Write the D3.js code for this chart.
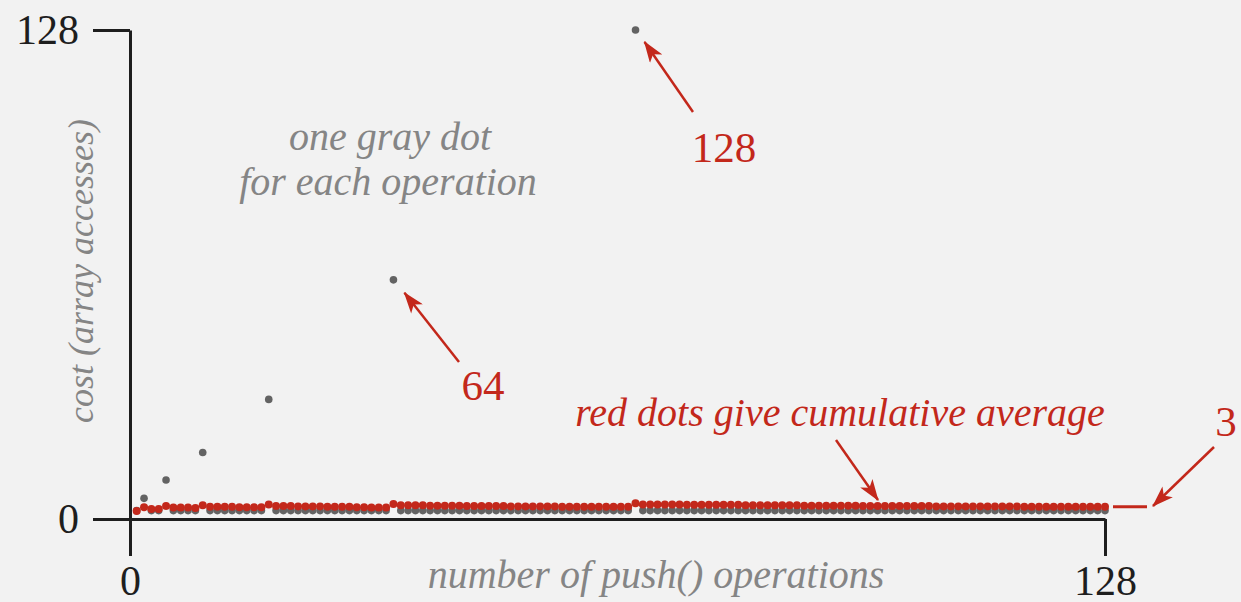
<!DOCTYPE html>
<html>
<head>
<meta charset="utf-8">
<script src="https://cdn.jsdelivr.net/npm/d3@7"></script>
<style>
  body { margin: 0; background: #f2f2f2; }
  svg { display: block; font-family: "Liberation Serif", "DejaVu Serif", serif; }
</style>
</head>
<body>
<div id="chart"></div>
<script>
// tick labels
var xTicks = [0, 128];
var yTicks = [0, 128];

// one dot per operation
var opCount = 133;
// operations that trigger a resize (gray dots high up) and their cost
var spikeOps = [2, 5, 10, 19, 36, 69];
var spikeCosts = [5.4, 10.2, 17.4, 31.3, 62.6, 128];
var baseCost = 2.2;

// red dots: cumulative average
var avgCost = [
  2.1, 3.1, 2.6, 2.6, 3.4, 3.0, 3.0, 3.0, 2.9, 3.6,
  3.2, 3.2, 3.2, 3.2, 3.1, 3.1, 3.1, 3.1, 3.8,
  3.4, 3.4, 3.4, 3.3, 3.3, 3.3, 3.3, 3.2, 3.2, 3.2, 3.2, 3.1, 3.1, 3.0, 3.0, 3.0,
  3.9,
  3.6, 3.6, 3.6, 3.6, 3.5, 3.5, 3.5, 3.5, 3.5, 3.4, 3.4, 3.4, 3.4, 3.4, 3.4, 3.3,
  3.3, 3.3, 3.3, 3.3, 3.3, 3.3, 3.2, 3.2, 3.2, 3.2, 3.2, 3.2, 3.2, 3.2, 3.2, 3.2,
  4.1,
  3.8, 3.8, 3.8, 3.8, 3.8, 3.8, 3.7, 3.7, 3.7, 3.7, 3.7, 3.7, 3.7, 3.7,
  3.6, 3.6, 3.6, 3.6, 3.6, 3.6, 3.6, 3.6, 3.5, 3.5, 3.5, 3.5, 3.5, 3.5, 3.5, 3.5,
  3.4, 3.4, 3.4, 3.4, 3.4, 3.4, 3.4, 3.4, 3.4, 3.4,
  3.3, 3.3, 3.3, 3.3, 3.3, 3.3, 3.3, 3.3, 3.3, 3.3, 3.3, 3.3,
  3.2, 3.2, 3.2, 3.2, 3.2, 3.2, 3.2, 3.2, 3.2, 3.2, 3.2, 3.2
];
var limitLabel = "3";

var svgWidth = 1241;
var svgHeight = 602;

var red = "#c3281b";
var gray = "#636363";
var textGray = "#858585";
var ink = "#1e1e1e";

var svg = d3.select("#chart")
  .append("svg")
  .attr("width", svgWidth)
  .attr("height", svgHeight);

svg.append("rect")
  .attr("width", svgWidth)
  .attr("height", svgHeight)
  .attr("fill", "#f2f2f2");

// scales
var xScale = d3.scaleLinear().domain([0, 128]).range([130, 1105]);
var yScale = d3.scaleLinear().domain([0, 128]).range([519, 30]);
var opScale = d3.scaleLinear().domain([1, opCount]).range([136.7, 1105]);

// arrow head
svg.append("defs").append("marker")
  .attr("id", "head")
  .attr("viewBox", "0 0 20 14")
  .attr("refX", 19)
  .attr("refY", 7)
  .attr("markerUnits", "userSpaceOnUse")
  .attr("markerWidth", 22)
  .attr("markerHeight", 15)
  .attr("orient", "auto")
  .append("path")
  .attr("d", "M0,0 L20,7 L0,14 L5,7 Z")
  .attr("fill", red);

// axes
var leftAxis = d3.axisLeft(yScale).tickValues(yTicks).tickSize(37).tickSizeOuter(0).tickPadding(14);
var bottomAxis = d3.axisBottom(xScale).tickValues(xTicks).tickSize(37).tickSizeOuter(0).tickPadding(9);

var yAxis = svg.append("g")
  .attr("transform", `translate(${xScale(0)},0)`)
  .call(leftAxis);

var xAxis = svg.append("g")
  .attr("transform", `translate(0,${yScale(0)})`)
  .call(bottomAxis);

[yAxis, xAxis].forEach(function(g) {
  g.selectAll("path, line").attr("stroke", ink).attr("stroke-width", 3);
  g.selectAll("text")
    .attr("fill", ink)
    .attr("font-size", 42)
    .attr("font-family", "Liberation Serif, serif");
});

// gray dots: one per operation
var grayCosts = d3.range(1, opCount + 1).map(function(op) {
  var k = spikeOps.indexOf(op);
  return { op: op, cost: k >= 0 ? spikeCosts[k] : baseCost };
});

svg.append("g").selectAll("circle")
  .data(grayCosts)
  .enter()
  .append("circle")
  .attr("cx", d => opScale(d.op))
  .attr("cy", d => yScale(d.cost))
  .attr("r", 3.8)
  .attr("fill", gray);

// red dots: cumulative average
svg.append("g").selectAll("circle")
  .data(avgCost)
  .enter()
  .append("circle")
  .attr("cx", (d, i) => opScale(i + 1))
  .attr("cy", d => yScale(d))
  .attr("r", 4)
  .attr("fill", red);

// dash marking the limit of the average
var lastY = yScale(avgCost[avgCost.length - 1]);
svg.append("line")
  .attr("x1", 1113).attr("x2", 1147)
  .attr("y1", lastY).attr("y2", lastY)
  .attr("stroke", red)
  .attr("stroke-width", 3);

// annotations
function arrow(x1, y1, x2, y2) {
  svg.append("line")
    .attr("x1", x1).attr("y1", y1)
    .attr("x2", x2).attr("y2", y2)
    .attr("stroke", red)
    .attr("stroke-width", 2.5)
    .attr("marker-end", "url(#head)");
}

var topDot = grayCosts[spikeOps[5] - 1];
var midDot = grayCosts[spikeOps[4] - 1];

arrow(693, 112, opScale(topDot.op) + 9, yScale(topDot.cost) + 12);
arrow(459, 362, opScale(midDot.op) + 11, yScale(midDot.cost) + 13);
arrow(836, 440, 878, 500);
arrow(1214, 447, 1153, 506);

function label(x, y, txt, opts) {
  return svg.append("text")
    .attr("x", x)
    .attr("y", y)
    .attr("text-anchor", opts.anchor || "middle")
    .attr("font-size", opts.size)
    .attr("font-style", opts.italic ? "italic" : "normal")
    .attr("fill", opts.color)
    .text(txt);
}

label(724, 162, "128", { size: 43, color: red });
label(483, 400, "64", { size: 43, color: red });
label(1226, 436, limitLabel, { size: 43, color: red });
label(840, 426, "red dots give cumulative average", { size: 40, color: red, italic: true });

label(390, 150, "one gray dot", { size: 40, color: textGray, italic: true });
label(388, 195, "for each operation", { size: 40, color: textGray, italic: true });

label(656, 588, "number of push() operations", { size: 40, color: textGray, italic: true });

svg.append("text")
  .attr("transform", `translate(93,271) rotate(-90)`)
  .attr("text-anchor", "middle")
  .attr("font-size", 36)
  .attr("font-style", "italic")
  .attr("fill", textGray)
  .text("cost (array accesses)");
</script>
</body>
</html>
